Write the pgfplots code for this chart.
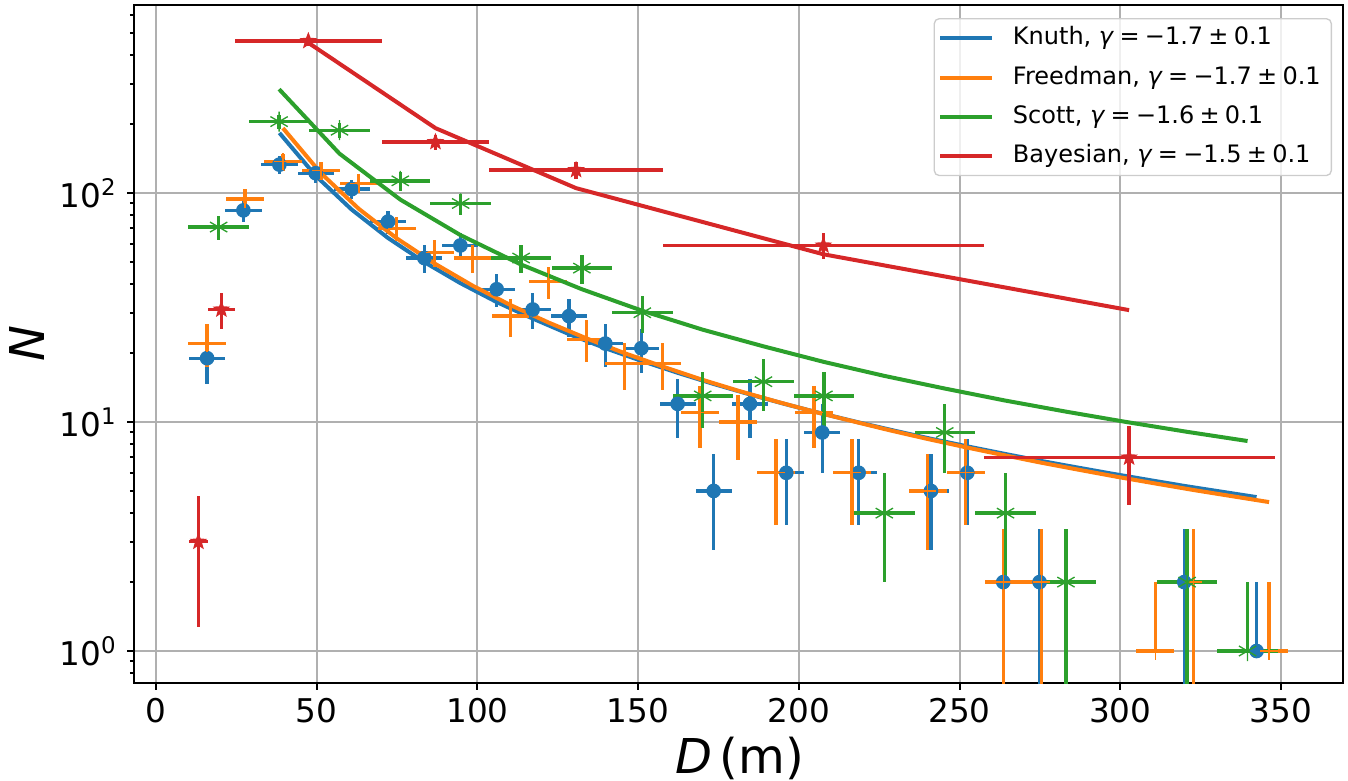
\documentclass[border=0pt]{standalone}
\usepackage{pgfplots}
\pgfplotsset{compat=1.18}
\usepackage{fontspec}
\setmainfont{DejaVu Sans}

\definecolor{cb}{HTML}{1F77B4}
\definecolor{co}{HTML}{FF7F0E}
\definecolor{cg}{HTML}{2CA02C}
\definecolor{cr}{HTML}{D62728}
\definecolor{gridc}{HTML}{B0B0B0}
\definecolor{legc}{HTML}{CCCCCC}

% filled five-pointed star, like matplotlib's '*'
\pgfdeclareplotmark{fstar}{%
  \pgfpathmoveto{\pgfpointpolar{90}{\pgfplotmarksize}}%
  \pgfpathlineto{\pgfpointpolar{126}{0.42\pgfplotmarksize}}%
  \pgfpathlineto{\pgfpointpolar{162}{\pgfplotmarksize}}%
  \pgfpathlineto{\pgfpointpolar{198}{0.42\pgfplotmarksize}}%
  \pgfpathlineto{\pgfpointpolar{234}{\pgfplotmarksize}}%
  \pgfpathlineto{\pgfpointpolar{270}{0.42\pgfplotmarksize}}%
  \pgfpathlineto{\pgfpointpolar{306}{\pgfplotmarksize}}%
  \pgfpathlineto{\pgfpointpolar{342}{0.42\pgfplotmarksize}}%
  \pgfpathlineto{\pgfpointpolar{18}{\pgfplotmarksize}}%
  \pgfpathlineto{\pgfpointpolar{54}{0.42\pgfplotmarksize}}%
  \pgfpathclose\pgfusepathqfillstroke}

\pgfplotsset{
  eb/.style={only marks, forget plot, mark options={solid},
    error bars/.cd, x dir=both, x explicit, y dir=both, y explicit,
    error mark=none, error bar style={line width=1pt}},
  fit/.style={no marks, line width=1.2pt},
}
\newcommand{\gam}[1]{\textit{γ}\hspace{0.22em}=\hspace{0.22em}−#1\hspace{0.22em}±\hspace{0.22em}0.1}

\begin{document}
\begin{tikzpicture}
\useasboundingbox (-40.2pt,-29.1pt) rectangle (364.2pt,204.9pt);
\begin{axis}[
  at={(0,0)}, anchor=south west,
  scale only axis, width=362.7pt, height=203.4pt,
  xmin=-6.84, xmax=369.3,
  ymode=log, ymin=0.725, ymax=662,
  xtick={0,50,...,350},
  ytick={1,10,100},
  yticklabels={10\textsuperscript{0},10\textsuperscript{1},10\textsuperscript{2}},
  minor ytick={0.8,0.9,2,3,4,5,6,7,8,9,20,30,40,50,60,70,80,90,200,300,400,500,600},
  xtick pos=lower, ytick pos=left,
  tick align=outside,
  major tick length=2pt, minor tick length=1.2pt,
  tick style={black, line width=0.6pt},
  grid=major,
  major grid style={gridc, line width=0.6pt},
  axis line style={line width=0.75pt},
  /pgf/number format/assume math mode=true,
  ticklabel style={font=\fontsize{9.8}{11.8}\selectfont},
  xticklabel style={inner sep=0pt, anchor=north, yshift=-2.5pt},
  yticklabel style={inner sep=0pt, anchor=east, xshift=-2.8pt},
  xlabel={\textit{D}\hspace{0.15em}(m)},
  ylabel={\textit{N}},
  label style={font=\fontsize{14.4}{17}\selectfont, inner sep=0pt},
  xlabel style={at={(axis description cs:0.4475,0)}, anchor=base west, yshift=-27pt},
  ylabel style={at={(axis description cs:0,0.5)}, anchor=base, yshift=26.7pt},
  legend cell align=left,
  legend style={at={(axis description cs:1,1)}, anchor=north east,
    xshift=-3.3pt, yshift=-3.9pt, draw=legc, line width=0.4pt,
    rounded corners=1.5pt, fill=white, fill opacity=0.8, text opacity=1,
    font=\fontsize{7.2}{8.6}\selectfont, row sep=0.9pt,
    inner xsep=1.2pt, inner ysep=0.3pt},
  legend image code/.code={\draw[#1, line width=1.2pt] (0pt,0pt) -- (15.6pt,0pt); \path (19.2pt,0pt);},
]

% Knuth
\addplot[color=cb, mark=*, mark size=2pt, eb] coordinates {
(15.9,19) +- (5.63,4.36)
(27.2,84) +- (5.63,9.17)
(38.4,133) +- (5.63,11.53)
(49.7,122) +- (5.63,11.05)
(60.9,104) +- (5.63,10.20)
(72.2,75) +- (5.63,8.66)
(83.5,52) +- (5.63,7.21)
(94.7,59) +- (5.63,7.68)
(106.0,38) +- (5.63,6.16)
(117.2,31) +- (5.63,5.57)
(128.5,29) +- (5.63,5.39)
(139.8,22) +- (5.63,4.69)
(151.0,21) +- (5.63,4.58)
(162.3,12) +- (5.63,3.46)
(173.5,5) +- (5.63,2.24)
(184.8,12) +- (5.63,3.46)
(196.1,6) +- (5.63,2.45)
(207.3,9) +- (5.63,3.00)
(218.6,6) +- (5.63,2.45)
(241.1,5) +- (5.63,2.24)
(252.4,6) +- (5.63,2.45)
(263.6,2) +- (5.63,1.414)
(274.9,2) +- (5.63,1.414)
(319.9,2) +- (5.63,1.414)
(342.4,1) += (5.63,1) -= (5.63,0)
};
\addplot[color=cb, fit] coordinates {
(38.4,183) (49.7,118.9) (60.9,84.6) (72.2,63.6) (83.5,49.9) (94.7,40.4)
(106.0,33.4) (117.2,28.3) (128.5,24.2) (139.8,21.0) (151.0,18.5) (162.3,16.4)
(173.5,14.66) (184.8,13.19) (196.1,11.94) (207.3,10.88) (218.6,9.96) (229.8,9.16)
(241.1,8.45) (252.4,7.83) (263.6,7.28) (274.9,6.78) (286.1,6.35) (297.4,5.95)
(308.7,5.59) (319.9,5.26) (331.2,4.97) (342.4,4.70)
};
\addlegendentry{Knuth, \gam{1.7}}

% Freedman
\addplot[color=co, mark=+, mark size=2.6pt, mark options={line width=1pt}, eb] coordinates {
(15.9,22) +- (5.9,4.69)
(27.7,94) +- (5.9,9.70)
(39.5,137) +- (5.9,11.70)
(51.3,125) +- (5.9,11.18)
(63.1,110) +- (5.9,10.49)
(74.9,70) +- (5.9,8.37)
(86.7,55) +- (5.9,7.42)
(98.5,52) +- (5.9,7.21)
(110.3,29) +- (5.9,5.39)
(122.1,41) +- (5.9,6.40)
(133.9,23) +- (5.9,4.80)
(145.7,18) +- (5.9,4.24)
(157.5,18) +- (5.9,4.24)
(169.3,11) +- (5.9,3.32)
(181.1,10) +- (5.9,3.16)
(192.9,6) +- (5.9,2.45)
(204.7,11) +- (5.9,3.32)
(216.5,6) +- (5.9,2.45)
(240.1,5) +- (5.9,2.24)
(251.9,6) +- (5.9,2.45)
(263.7,2) +- (5.9,1.414)
(275.5,2) +- (5.9,1.414)
(310.9,1) += (5.9,1) -= (5.9,0)
(322.7,2) +- (5.9,1.414)
(346.3,1) += (5.9,1) -= (5.9,0)
};
\addplot[color=co, fit] coordinates {
(39.5,192) (51.3,122.1) (63.1,85.3) (74.9,63.4) (86.7,49.2) (98.5,39.4)
(110.3,32.4) (122.1,27.2) (133.9,23.2) (145.7,20.0) (157.5,17.5) (169.3,15.4)
(181.1,13.7) (192.9,12.3) (204.7,11.1) (216.5,10.1) (228.3,9.2) (240.1,8.43)
(251.9,7.76) (263.7,7.17) (275.5,6.64) (287.3,6.18) (299.1,5.76) (310.9,5.39)
(322.7,5.05) (334.5,4.75) (346.3,4.47)
};
\addlegendentry{Freedman, \gam{1.7}}

% Scott
\addplot[color=cg, mark=asterisk, mark size=3pt, mark options={line width=1pt}, eb] coordinates {
(19.5,71) +- (9.4,8.43)
(38.3,205) +- (9.4,14.32)
(57.1,188) +- (9.4,13.71)
(76.0,113) +- (9.4,10.63)
(94.8,90) +- (9.4,9.49)
(113.6,52) +- (9.4,7.21)
(132.5,47) +- (9.4,6.86)
(151.3,30) +- (9.4,5.48)
(170.1,13) +- (9.4,3.61)
(189.0,15) +- (9.4,3.87)
(207.8,13) +- (9.4,3.61)
(226.6,4) +- (9.4,2.00)
(245.4,9) +- (9.4,3.00)
(264.3,4) +- (9.4,2.00)
(283.1,2) +- (9.4,1.414)
(320.8,2) +- (9.4,1.414)
(339.6,1) += (9.4,1) -= (9.4,0)
};
\addplot[color=cg, fit] coordinates {
(38.3,284) (57.1,148.5) (76.0,93.6) (94.8,65.4) (113.6,48.7) (132.5,38.0)
(151.3,30.6) (170.1,25.3) (189.0,21.4) (207.8,18.3) (226.6,15.9) (245.4,14.0)
(264.3,12.4) (283.1,11.1) (301.9,10.0) (320.8,9.06) (339.6,8.26)
};
\addlegendentry{Scott, \gam{1.6}}

% Bayesian blocks
\addplot[color=cr, mark=fstar, mark size=2.2pt, eb] coordinates {
(13.2,3) +- (2.95,1.73)
(20.35,31) +- (4.15,5.57)
(47.4,461) +- (22.9,21.5)
(86.95,167) +- (16.65,12.9)
(130.7,126) +- (27.1,11.2)
(207.65,59) +- (49.85,7.68)
(302.75,7) +- (45.25,2.65)
};
\addplot[color=cr, fit] coordinates {
(47.4,453) (86.95,192) (130.7,105) (207.65,54) (302.75,30.8)
};
\addlegendentry{Bayesian, \gam{1.5}}

\end{axis}
\end{tikzpicture}
\end{document}
